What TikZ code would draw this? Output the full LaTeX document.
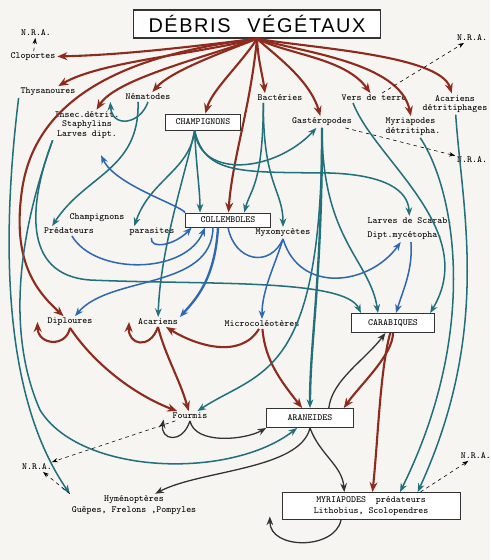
\documentclass[tikz,border=0pt]{standalone}
\usepackage{fontspec}
\usepackage{xcolor}
\usepackage{tikz}
\usetikzlibrary{arrows.meta}
\newfontfamily\titlefont[LetterSpace=8]{Liberation Sans}
\definecolor{TrophRed}{HTML}{8E2B1E}
\definecolor{TrophTeal}{HTML}{22707C}
\definecolor{TrophBlue}{HTML}{2F68B2}
\definecolor{TrophGray}{HTML}{333333}
\definecolor{PaperWhite}{HTML}{F6F5F1}
\tikzset{
  taxon/.style={font=\fontsize{8}{9}\selectfont\ttfamily,inner sep=1.5pt,align=center},
  taxbox/.style={draw=TrophGray,line width=0.8pt,fill=white,font=\fontsize{8}{9}\selectfont\ttfamily,inner sep=2pt,align=center},
  redarrow/.style={-{Stealth[length=3mm,width=2.4mm]},line width=1.8pt,draw=TrophRed},
  tealarrow/.style={-{Stealth[length=2.6mm,width=2mm]},line width=1.3pt,draw=TrophTeal},
  bluearrow/.style={-{Stealth[length=2.6mm,width=2mm]},line width=1.3pt,draw=TrophBlue},
  grayarrow/.style={-{Stealth[length=2.6mm,width=2mm]},line width=1.1pt,draw=TrophGray},
  nradash/.style={-{Stealth[length=1.8mm,width=1.3mm]},dashed,line width=0.5pt,draw=black}
}

\begin{document}
\begin{tikzpicture}[x=0.03cm,y=-0.03cm]
\useasboundingbox (0,0) rectangle (490,560);
\fill[PaperWhite] (0,0) rectangle (490,560);
\node[draw=TrophGray,line width=1.3pt,fill=white,minimum width=7.41cm,minimum height=0.84cm,font={\titlefont\fontsize{17}{20}\selectfont}] (debris) at (257,24) {DÉBRIS\hspace{5mm}VÉGÉTAUX};
% taxa
\node[taxon] (nraA) at (36,33) {N.R.A.};
\node[taxon] (clop) at (33,57) {Cloportes};
\node[taxon] (thys) at (48,92) {Thysanoures};
\node[taxon] (nema) at (148,97) {Nématodes};
\node[taxon] (insec) at (87,125) {Insec.détrit.\\[-1pt]Staphylins\\[-1pt]Larves dipt.};
\node[taxbox,minimum width=2.25cm,minimum height=0.48cm] (champ) at (203,122) {CHAMPIGNONS};
\node[taxon] (bact) at (280,98) {Bactéries};
\node[taxon] (gast) at (322,122) {Gastéropodes};
\node[taxon] (vers) at (374,98) {Vers de terre};
\node[taxon] (acdet) at (455,104) {Acariens\\[-1pt]détritiphages};
\node[taxon,align=left] (myrdet) at (413,127) {Myriapodes\\[-0.5pt]détritipha.};
\node[taxon,anchor=east] (nraB) at (489,38) {N.R.A.};
\node[taxon,anchor=east] (nraC) at (489,160) {N.R.A.};
\node[taxon] (chpredA) at (97,218) {Champignons};
\node[taxon] (chpredB) at (69,231) {Prédateurs};
\node[taxon] (paras) at (152,232) {parasites};
\node[taxbox,minimum width=2.55cm,minimum height=0.42cm,inner sep=1pt] (coll) at (228,220) {COLLEMBOLES};
\node[taxon] (myxo) at (283,233) {Myxomycètes};
\node[taxon,align=left] (larv) at (410,229) {Larves de Scarab.\\[3pt]Dipt.mycétopha.};
\node[taxon] (dipl) at (70,322) {Diploures};
\node[taxon] (acar) at (158,322) {Acariens};
\node[taxon] (micro) at (262,324) {Microcoléotères};
\node[taxbox,minimum width=2.5cm,minimum height=0.57cm] (carab) at (393,323) {CARABIQUES};
\node[taxon] (fourm) at (190,416) {Fourmis};
\node[taxbox,minimum width=2.6cm,minimum height=0.57cm] (aran) at (310,418) {ARANEIDES};
\node[taxon] (nraD) at (37,467) {N.R.A.};
\node[taxon] (hymen) at (134,505) {Hyménoptères\\Guêpes, Frelons ,Pompyles};
\node[taxbox,minimum width=5.34cm,minimum height=0.81cm] (myrpred) at (371,506) {MYRIAPODES\ \ prédateurs\\[1pt]Lithobius, Scolopendres};
\node[taxon,anchor=west] (nraE) at (459,456) {N.R.A.};
\coordinate (champfoot) at ([xshift=-0.25cm]champ.south);
\coordinate (bactfoot) at ([xshift=-0.5cm]bact.south);
% red: litter eaters and predators
\draw[redarrow] (debris.south) .. controls (180,48) and (120,55) .. (clop);
\draw[redarrow] (debris.south) .. controls (190,55) and (100,62) .. (thys);
\draw[redarrow] (debris.south) .. controls (195,60) and (115,80) .. (insec);
\draw[redarrow] (debris.south) .. controls (215,55) and (170,72) .. (nema);
\draw[redarrow] (debris.south) .. controls (240,65) and (212,90) .. (champ);
\draw[redarrow] (debris.south) .. controls (250,110) and (232,160) .. (coll);
\draw[redarrow] (debris.south) .. controls (258,60) and (262,72) .. ([xshift=-0.45cm]bact.north);
\draw[redarrow] (debris.south) .. controls (275,55) and (310,80) .. (gast);
\draw[redarrow] (debris.south) .. controls (290,55) and (345,58) .. (vers);
\draw[redarrow] (debris.south) .. controls (300,52) and (400,62) .. (myrdet);
\draw[redarrow] (debris.south) .. controls (310,48) and (440,55) .. (acdet);
\draw[redarrow] (debris.south) .. controls (120,55) and (35,100) .. (22,190) .. controls (12,260) and (35,290) .. (dipl);
\draw[redarrow] (dipl.south) .. controls (66,348) and (38,345) .. ([xshift=-7pt]dipl.west);
\draw[redarrow] (dipl.south) .. controls (95,365) and (135,395) .. (fourm);
\draw[redarrow] (acar.south) .. controls (150,350) and (128,345) .. ([xshift=-6pt]acar.west);
\draw[redarrow] (acar.south) .. controls (165,355) and (180,380) .. (fourm);
\draw[redarrow] (micro) .. controls (240,360) and (195,345) .. (acar);
\draw[redarrow] (micro) .. controls (265,360) and (280,380) .. (aran);
\draw[redarrow] (carab) .. controls (393,355) and (360,385) .. ([xshift=-0.3cm]aran.north east);
\draw[redarrow] (carab) .. controls (380,370) and (378,440) .. (myrpred);
% grey
\draw[grayarrow] ([xshift=-0.75cm]aran.north east) .. controls (332,380) and (365,360) .. (carab);
\draw[grayarrow] (fourm.south) .. controls (195,445) and (245,440) .. (aran.south west);
\draw[grayarrow] (fourm.south) .. controls (182,445) and (160,440) .. ([xshift=-6pt,yshift=-3pt]fourm.west);
\draw[grayarrow] (aran.south) .. controls (320,455) and (342,465) .. ([xshift=-0.8cm]myrpred.north);
\draw[grayarrow] (aran.south) .. controls (300,470) and (200,470) .. (hymen);
\draw[grayarrow] ([xshift=-0.9cm]myrpred.south) .. controls (335,550) and (270,550) .. ([xshift=-10pt,yshift=3pt]myrpred.south west);
% teal
\draw[tealarrow] (thys.south west) .. controls (0,250) and (5,400) .. (hymen.north west);
\draw[tealarrow] (insec.south west) .. controls (20,230) and (5,330) .. (40,410) .. controls (80,475) and (230,480) .. (aran);
\draw[tealarrow] (insec.south west) .. controls (30,200) and (20,275) .. (90,280) .. controls (200,285) and (345,278) .. ([xshift=0.3cm]carab.north west);
\draw[tealarrow] ([xshift=-0.3cm]nema.south) .. controls (140,170) and (85,175) .. ([xshift=0.3cm]chpredB.north west);
\draw[tealarrow] (nema.south) .. controls (140,125) and (112,128) .. ([xshift=-0.4cm]nema.south west);
\draw[tealarrow] (champfoot) .. controls (196,165) and (200,190) .. ([xshift=0.45cm]coll.north west);
\draw[tealarrow] (champfoot) .. controls (200,180) and (275,172) .. (gast);
\draw[tealarrow] (champfoot) .. controls (205,175) and (240,172) .. (330,173) .. controls (385,175) and (408,190) .. (larv);
\draw[tealarrow] (champfoot) .. controls (190,170) and (150,180) .. ([xshift=0.2cm]paras.north west);
\draw[tealarrow] (champfoot) .. controls (185,175) and (160,250) .. (acar);
\draw[tealarrow] (bactfoot) .. controls (263,185) and (250,190) .. ([xshift=-0.8cm]coll.north east);
\draw[tealarrow] (bactfoot) .. controls (263,185) and (283,190) .. (myxo);
\draw[tealarrow,line width=2pt] (gast.south) .. controls (322,280) and (310,340) .. (aran);
\draw[tealarrow] (gast.south) .. controls (322,240) and (370,260) .. ([xshift=-0.45cm]carab.north);
\draw[tealarrow] (gast.south) .. controls (322,380) and (260,370) .. (fourm);
\draw[tealarrow] ([xshift=0.4cm]vers.south west) .. controls (375,160) and (480,230) .. ([xshift=-0.15cm]carab.north east);
\draw[tealarrow] (myrdet) .. controls (455,190) and (480,330) .. ([xshift=0.87cm]myrpred.north);
\draw[tealarrow] (acdet) .. controls (462,210) and (492,330) .. ([xshift=1.4cm]myrpred.north);
% blue
\draw[bluearrow,shorten >=14pt] (coll.north west) .. controls (180,205) and (115,185) .. (insec);
\draw[bluearrow] (paras) .. controls (150,250) and (175,245) .. ([xshift=0.2cm]coll.south west);
\draw[bluearrow] (chpredB) .. controls (95,275) and (185,275) .. ([xshift=0.6cm]coll.south west);
\draw[bluearrow,line width=2pt] ([xshift=-0.3cm]coll.south) .. controls (215,280) and (195,300) .. (acar.north east);
\draw[bluearrow] ([xshift=-0.45cm]coll.south) .. controls (212,290) and (110,275) .. (dipl);
\draw[TrophBlue,line width=1.3pt] (myxo.south) .. controls (270,268) and (235,262) .. (coll.south);
\draw[bluearrow] (myxo.south) .. controls (300,295) and (370,285) .. (larv);
\draw[bluearrow] (myxo.south) .. controls (275,265) and (262,290) .. (micro);
\draw[bluearrow] (larv) .. controls (413,270) and (403,290) .. (carab);
% to N.R.A.
\draw[nradash] (clop) -- (nraA);
\draw[nradash] (vers) -- (nraB);
\draw[nradash] (gast) -- (nraC);
\draw[nradash] (fourm) -- (nraD);
\draw[nradash] (hymen.north west) -- (nraD);
\draw[nradash] ([xshift=-1.2cm]myrpred.north east) -- (nraE);
\end{tikzpicture}
\end{document}
